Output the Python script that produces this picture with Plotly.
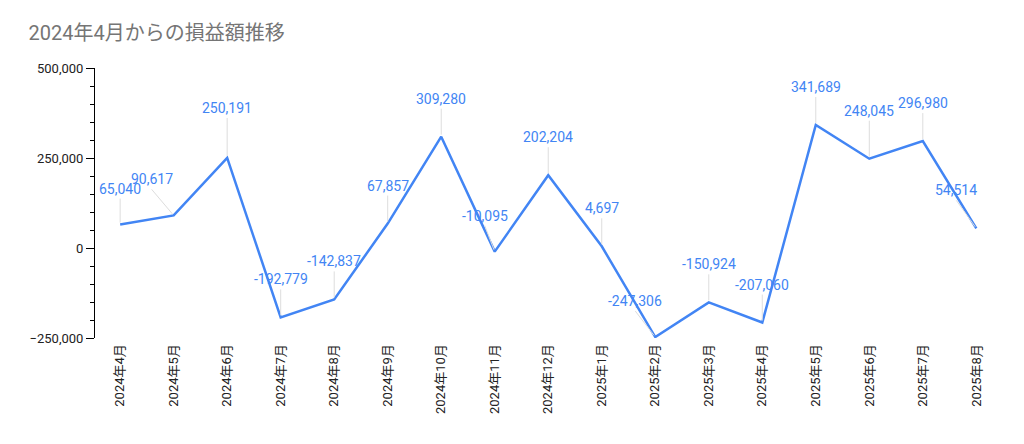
import plotly.graph_objects as go

months = ["2024年4月", "2024年5月", "2024年6月", "2024年7月", "2024年8月", "2024年9月",
          "2024年10月", "2024年11月", "2024年12月", "2025年1月", "2025年2月", "2025年3月",
          "2025年4月", "2025年5月", "2025年6月", "2025年7月", "2025年8月"]
profit = [65040, 90617, 250191, -192779, -142837, 67857, 309280, -10095, 202204,
          4697, -247306, -150924, -207060, 341689, 248045, 296980, 54514]
# label offsets (px) for the data labels
label_dx = [0, -22, 0, 0, 0, 0, 0, -10, 0, 0, -20, 0, 0, 0, 0, 0, -20]
label_dy = [-26, -26, -40, -28, -28, -28, -28, -26, -28, -28, -26, -28, -28, -28, -38, -28, -28]

fig = go.Figure()
fig.add_trace(go.Scatter(
    x=months, y=profit, mode="lines",
    line=dict(color="#4285F4", width=2.5),
    hoverinfo="x+y"
))

for m, v, dx, dy in zip(months, profit, label_dx, label_dy):
    fig.add_annotation(
        x=m, y=v, text=f"{v:,}", showarrow=True, arrowhead=0, arrowwidth=1,
        arrowcolor="#dddddd", ax=dx, ay=dy, standoff=2,
        font=dict(color="#4285F4", size=14), yanchor="bottom"
    )

fig.update_layout(
    width=1024, height=444,
    title=dict(text="2024年4月からの損益額推移", x=0.02, y=0.96,
               font=dict(size=20, color="#757575")),
    font=dict(family="Roboto, Noto Sans CJK JP", color="#222222", size=13),
    plot_bgcolor="white", paper_bgcolor="white",
    showlegend=False,
    margin=dict(l=87, r=53, t=60, b=114),
    xaxis=dict(type="category", range=[-0.47, 16.05], showgrid=False,
               tickangle=-90, ticks="outside", ticklen=0, showline=False,
               tickfont=dict(size=13)),
    yaxis=dict(range=[-250000, 500000], tickvals=[-250000, 0, 250000, 500000],
               tickformat=",", showgrid=False, zeroline=False, showline=True,
               linecolor="black", linewidth=1, ticks="outside", ticklen=8,
               tickcolor="black",
               minor=dict(ticks="outside", ticklen=4, dtick=50000, tickcolor="black"),
               tickfont=dict(size=13)),
)

fig.write_html("out.html")
